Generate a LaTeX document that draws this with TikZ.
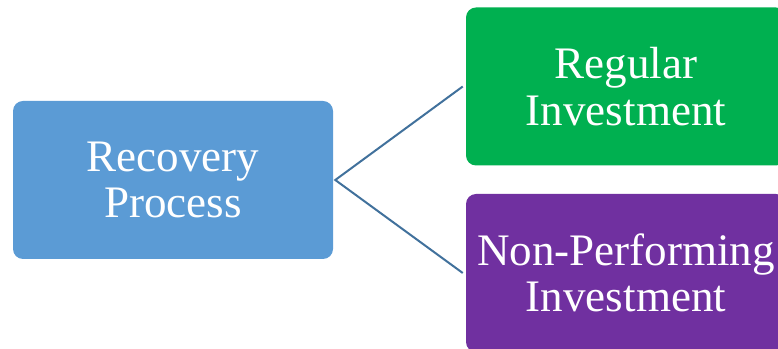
\documentclass[tikz,border=0pt]{standalone}
\usepackage{fontspec}
\setmainfont{Liberation Serif}
\usetikzlibrary{calc}
\definecolor{colREC}{RGB}{91,155,213}
\definecolor{colREG}{RGB}{0,176,80}
\definecolor{colNPI}{RGB}{112,48,160}
\definecolor{colLINK}{RGB}{65,113,156}
\begin{document}
\begin{tikzpicture}[x=0.75pt, y=0.75pt,
    box/.style={rounded corners=7.5pt, inner sep=0pt, minimum width=240pt,
      minimum height=118.5pt, align=center, text=white,
      font=\fontsize{33.8}{35}\selectfont},
    link/.style={colLINK, line width=1.5pt}]
  \clip (0,0) rectangle (778,349);
  % --- root ---
  \node[box, fill=colREC] (rec) at (173,169) {Recovery\\Process};
  % --- branches ---
  \node[box, fill=colREG] (reg) at (626,262.5) {Regular\\Investment};
  \node[box, fill=colNPI] (npi) at (626,76) {Non-Performing\\Investment};
  \coordinate (fork) at ($(rec.east)+(2,0)$);
  \draw[link] ($(reg.west)+(-3,0)$) -- (fork) -- ($(npi.west)+(-3,0)$);
\end{tikzpicture}
\end{document}
